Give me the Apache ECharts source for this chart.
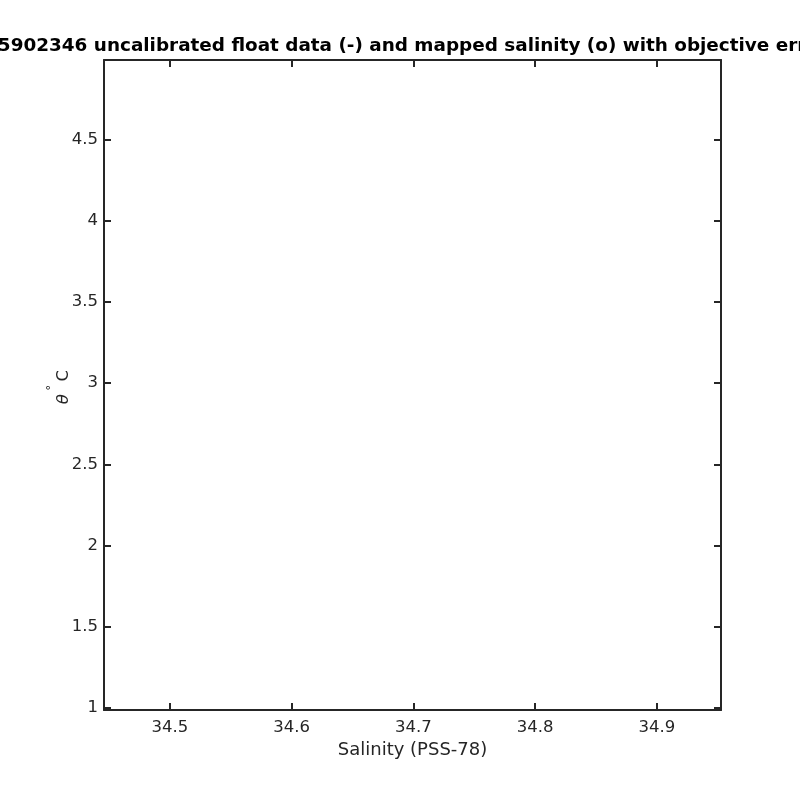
<!DOCTYPE html>
<html><head><meta charset="utf-8">
<script src="https://cdn.jsdelivr.net/npm/echarts@6/dist/echarts.min.js"></script>
<style>html,body{margin:0;padding:0;background:#fff}#c{width:800px;height:800px}</style>
</head><body><div id="c"></div>
<script>
const titleText = '15902346 uncalibrated float data (-) and mapped salinity (o) with objective errors';
const xAxisName = 'Salinity (PSS-78)';
const xTicks = [34.5, 34.6, 34.7, 34.8, 34.9];
const yTicks = [1, 1.5, 2, 2.5, 3, 3.5, 4, 4.5];
const xRange = [34.446, 34.9526];
const yRange = [0.988, 4.988];
// no profiles are drawn in the reference
const floatSalinity = [];
const floatTheta = [];
const mappedSalinity = [];
const mappedTheta = [];

const ink = '#262626';
const font = 'DejaVu Sans';
const chart = echarts.init(document.getElementById('c'), null, {renderer: 'canvas'});

function xAx(pos, showLabel) {
  return {
    type: 'value', position: pos, min: xRange[0], max: xRange[1],
    name: showLabel ? xAxisName : '', nameLocation: 'middle', nameGap: 29,
    nameTextStyle: {color: ink, fontFamily: font, fontSize: 18},
    axisLine: {show: true, onZero: false, lineStyle: {color: ink, width: 2}},
    axisTick: {show: true, inside: true, length: 7, customValues: xTicks, lineStyle: {color: ink, width: 2}},
    axisLabel: {show: showLabel, customValues: xTicks, color: ink, fontFamily: font, fontSize: 16.5, margin: 9,
      formatter: v => v.toFixed(1)},
    splitLine: {show: false}
  };
}
function yAx(pos, showLabel) {
  return {
    type: 'value', position: pos, min: yRange[0], max: yRange[1],
    axisLine: {show: true, onZero: false, lineStyle: {color: ink, width: 2}},
    axisTick: {show: true, inside: true, length: 7, customValues: yTicks, lineStyle: {color: ink, width: 2}},
    axisLabel: {show: showLabel, customValues: yTicks, color: ink, fontFamily: font, fontSize: 16.5, margin: 6,
      formatter: v => String(v)},
    splitLine: {show: false}
  };
}

chart.setOption({
  animation: false,
  backgroundColor: '#fff',
  grid: {left: 104, right: 79, top: 60, bottom: 90, containLabel: false},
  xAxis: [xAx('bottom', true), xAx('top', false)],
  yAxis: [yAx('left', true), yAx('right', false)],
  series: [
    {type: 'line', xAxisIndex: 0, yAxisIndex: 0, data: floatSalinity.map((s, i) => [s, floatTheta[i]]),
      showSymbol: false, lineStyle: {color: '#0000ff', width: 1}},
    {type: 'scatter', xAxisIndex: 0, yAxisIndex: 0, data: mappedSalinity.map((s, i) => [s, mappedTheta[i]]),
      symbol: 'emptyCircle', itemStyle: {color: '#ff0000'}}
  ],
  graphic: [
    {type: 'text', x: 412, y: 46, style: {text: titleText, fill: '#000', font: 'bold 18.4px "DejaVu Sans"',
      align: 'center', verticalAlign: 'middle'}},
    {type: 'text', x: 59, y: 387, rotation: Math.PI / 2,
      style: {text: '{t|θ} {d|°} {c|C}', align: 'center', verticalAlign: 'middle',
        rich: {
          t: {fontFamily: font, fontStyle: 'italic', fontSize: 16.5, fill: ink, lineHeight: 26, verticalAlign: 'bottom'},
          d: {fontFamily: font, fontSize: 12, fill: ink, lineHeight: 26, verticalAlign: 'top'},
          c: {fontFamily: font, fontSize: 16.5, fill: ink, lineHeight: 26, verticalAlign: 'bottom'}
        }}}
  ]
});
</script>
</body></html>
